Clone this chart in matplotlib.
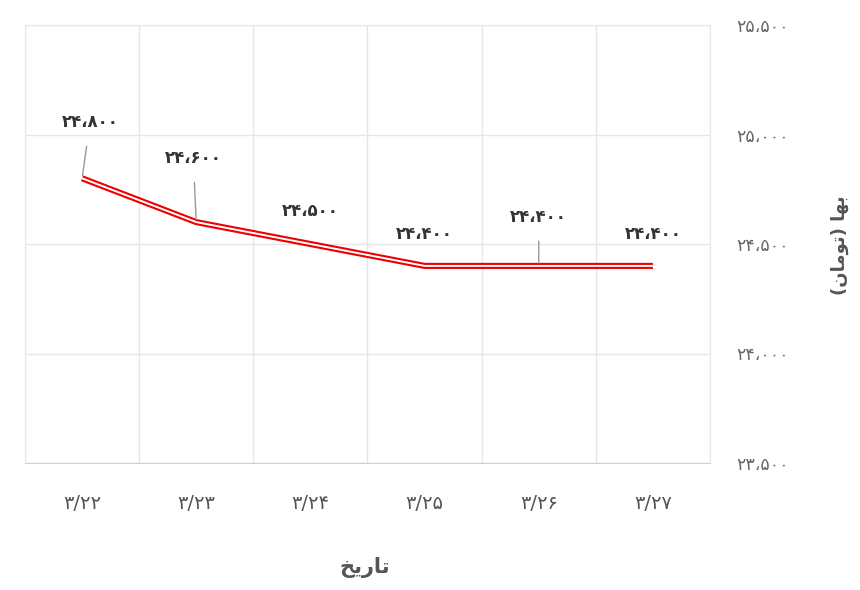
import matplotlib
matplotlib.use("Agg")
import matplotlib.pyplot as plt
from matplotlib.ticker import FixedLocator, FuncFormatter

plt.rcParams["font.family"] = ["DejaVu Sans"]

# data
dates = ["3/22", "3/23", "3/24", "3/25", "3/26", "3/27"]
prices = [24800, 24600, 24500, 24400, 24400, 24400]
y_ticks = [23500, 24000, 24500, 25000, 25500]

# label offsets in pixels (dx, dy) and whether a leader line is drawn
label_offsets = [(8, 56), (-3, 64), (0, 33), (0, 32), (0, 49), (0, 32)]
leaders = [True, True, False, False, True, False]

FA_DIGITS = str.maketrans("0123456789", "\u06f0\u06f1\u06f2\u06f3\u06f4\u06f5\u06f6\u06f7\u06f8\u06f9")


def fa_num(v):
    return f"{int(v):,}".replace(",", "\u060c").translate(FA_DIGITS)


# presentation forms, visual order (matplotlib does no arabic shaping)
x_title = "\ufea6\ufbfe\ufead\ufe8e\ufe97"                       # تاریخ
y_title = "(\ufee5\ufe8e\ufee3\ufeee\ufe97) \ufe8e\ufeec\ufe91"  # بها (تومان)

fig = plt.figure(figsize=(8.6, 5.9), dpi=100)
ax = fig.add_axes([25 / 860, 1 - 463 / 590, 685 / 860, 438 / 590])

x = list(range(len(dates)))
ax.plot(x, prices, color="#ee0000", lw=4.4, solid_joinstyle="miter",
        solid_capstyle="butt", zorder=3)
ax.plot(x, prices, color="white", lw=1.4, solid_joinstyle="miter",
        solid_capstyle="butt", zorder=4)

ax.set_xlim(-0.5, len(dates) - 0.5)
ax.set_ylim(y_ticks[0], y_ticks[-1])

ax.yaxis.set_major_locator(FixedLocator(y_ticks))
ax.yaxis.set_major_formatter(FuncFormatter(lambda v, p: fa_num(v)))
ax.yaxis.tick_right()
ax.set_xticks(x)
ax.set_xticklabels([d.translate(FA_DIGITS) for d in dates])
ax.set_xticks([i - 0.5 for i in range(len(dates) + 1)], minor=True)

ax.grid(False)
ax.grid(True, axis="y", which="major", color="#e6e6e6", lw=1)
ax.grid(True, axis="x", which="minor", color="#e6e6e6", lw=1)
ax.tick_params(axis="both", which="both", length=0)
ax.tick_params(axis="y", pad=19, labelsize=12.5, labelcolor="#666666")
ax.tick_params(axis="x", pad=22, labelsize=14, labelcolor="#555555")
for lbl in ax.get_yticklabels():
    lbl.set_horizontalalignment("left")

for s in ["top", "left", "right"]:
    ax.spines[s].set_color("#e6e6e6")
ax.spines["bottom"].set_color("#d0d0d0")

for i, (v, (dx, dy), lead) in enumerate(zip(prices, label_offsets, leaders)):
    ax.annotate(fa_num(v), xy=(i, v), xytext=(dx, dy), textcoords="offset pixels",
                ha="center", va="center", fontsize=12, fontweight="bold", color="#333333",
                arrowprops=dict(arrowstyle="-", color="#999999", lw=1, shrinkA=9, shrinkB=2)
                if lead else None, zorder=5)

fig.text(365 / 860, 1 - 568 / 590, x_title, ha="center", va="center",
         fontsize=15, fontweight="bold", color="#555555")
fig.text(840 / 860, 1 - 245 / 590, y_title, ha="center", va="center", rotation=90,
         fontsize=13, fontweight="bold", color="#555555")

fig.savefig("out.png", dpi=100)
